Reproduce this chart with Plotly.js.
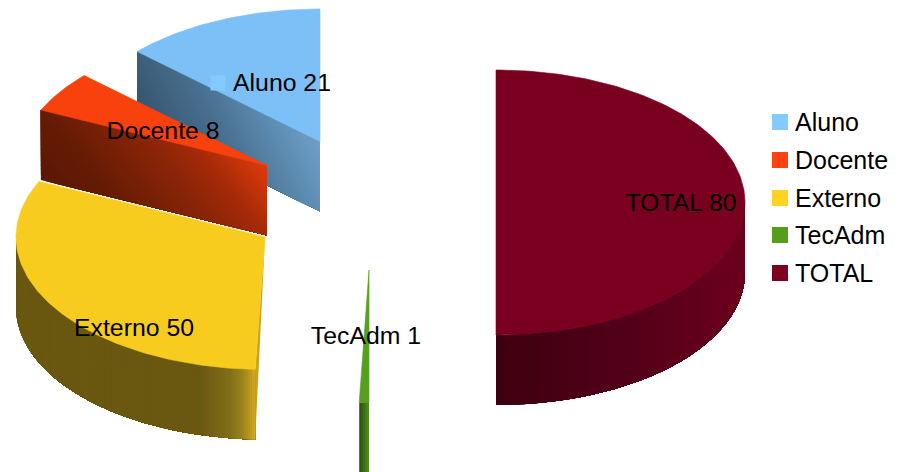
<!DOCTYPE html>
<html><head><meta charset="utf-8">
<script src="https://cdn.plot.ly/plotly-3.0.1.min.js"></script>
<style>html,body{margin:0;padding:0;background:#fff}#c{width:905px;height:472px}</style>
</head><body><div id="c"></div>
<script>
// data
const categories = ['Aluno','Docente','Externo','TecAdm','TOTAL'];
const values = [21,8,50,1,80];
// styles and geometry of the exploded pie
const legendColors = ['#83caff','#ff420e','#ffd320','#579d1c','#7e0021'];
const topColors = ['#7cc0f7','#f9410d','#f8cc1f','#57a01e','#7a0020'];
const centerX = [320,267,265,369,496];
const centerY = [141.5,165.5,237,270,202.5];
const labelX = [282,163,134,366,681];
const labelY = [84.5,132.5,329.5,338,205];
const legendY = [122,160,198,235,273];
const RX = 249, RY = 132.5, DEPTH = 70;

const W = 905, H = 472;
const total = values.reduce((a,b)=>a+b,0);
let cum = 0;
const ang = values.map(v=>{const a=[cum/total*360,(cum+v)/total*360];cum+=v;return a;});
const rad = d=>d*Math.PI/180;
const pt = (i,d)=>[centerX[i]-RX*Math.sin(rad(d)), centerY[i]-RY*Math.cos(rad(d))];
const hex = h=>[1,3,5].map(k=>parseInt(h.substr(k,2),16));
function ramp(stops,t){
  if(t<=stops[0][0])return hex(stops[0][1]);
  for(let k=1;k<stops.length;k++){
    if(t<=stops[k][0]){
      const a=stops[k-1],b=stops[k],f=(t-a[0])/(b[0]-a[0]||1);
      const A=hex(a[1]),B=hex(b[1]);
      return A.map((c,j)=>c+(B[j]-c)*f);
    }
  }
  return hex(stops[stops.length-1][1]);
}
const css = c=>`rgb(${c.map(v=>Math.round(v)).join(',')})`;
const traces = [];
function poly(pts,color,stroke){
  traces.push({type:'scatter',mode:stroke?'lines':'none',x:[...pts.map(p=>p[0]),pts[0][0]],y:[...pts.map(p=>p[1]),pts[0][1]],
    fill:'toself',fillcolor:color,line:{color:color,width:stroke?0.6:0},showlegend:false,hoverinfo:'skip'});
}
function topFace(i){
  const pts=[[centerX[i],centerY[i]]];
  for(let d=ang[i][0];d<ang[i][1];d+=1)pts.push(pt(i,d));
  pts.push(pt(i,ang[i][1]));
  poly(pts,topColors[i],true);
}
// keep the part of a polygon where x - tilt*y >= s
function clip(pts,tilt,s){
  const f=p=>p[0]-tilt*p[1]-s, out=[];
  pts.forEach((p,k)=>{
    const q=pts[(k+1)%pts.length],a=f(p),b=f(q);
    if(a>=0)out.push(p);
    if((a>=0)!==(b>=0)){const u=a/(a-b);out.push([p[0]+(q[0]-p[0])*u,p[1]+(q[1]-p[1])*u]);}
  });
  return out;
}
// cut face shaded by a diagonal gradient, painted back to front so no seams show
function radialWall(i,d,stops,tilt,n){
  const P=pt(i,d),C=[centerX[i],centerY[i]];
  const wall=[P,C,[C[0],C[1]+DEPTH],[P[0],P[1]+DEPTH]];
  const ss=wall.map(p=>p[0]-tilt*p[1]),lo=Math.min(...ss),hi=Math.max(...ss);
  for(let k=0;k<n;k++){
    const s=lo+(hi-lo)*k/n,c=clip(wall,tilt,s);
    if(c.length>2)poly(c,css(ramp(stops,s+(hi-lo)/n/2)));
  }
}
function outerWall(i,d0,d1,stops,step){
  const xa=pt(i,d0)[0],xb=pt(i,d1)[0];
  const lo=Math.min(xa,xb),span=Math.abs(xb-xa);
  for(let d=d0;d<d1;d+=step){
    const up=[],dn=[];
    for(let e=d;;e=Math.min(e+2,d1)){const A=pt(i,e);up.push(A);dn.unshift([A[0],A[1]+DEPTH]);if(e>=d1)break;}
    const m=pt(i,Math.min(d+step/2,d1));
    poly([...up,...dn],css(ramp(stops,(m[0]-lo)/span)));
  }
}
// Aluno
radialWall(0,ang[0][1],[[85,'#38566f'],[111,'#3d5f7b'],[160,'#4b7292'],[214,'#5f8fb5'],[249,'#6f9fc8']],0.5,50);
topFace(0);
// Docente
radialWall(1,ang[1][1],[[-103,'#5a1805'],[-47,'#651b05'],[44,'#8f2608'],[79,'#a82a08'],[131,'#dc3a0c']],0.8,60);
topFace(1);
// Externo
outerWall(2,90,ang[2][1],[[0,'#6a5810'],[0.77,'#6a5810'],[0.90,'#83701a'],[0.94,'#96801c'],[0.97,'#b3921e'],[1,'#d0aa20']],0.5);
{const C=[centerX[2],centerY[2]],O=pt(2,ang[2][1]);
 poly([C,[O[0],O[1]+DEPTH],O],'#c9a31c');}
topFace(2);
// TecAdm
{const O=pt(3,ang[3][0]),E=pt(3,ang[3][1]);
 const n=5;for(let k=0;k<n;k++){
   const a=O[0]+(E[0]-O[0])*k/n;
   poly([[a,O[1]],[E[0],E[1]],[E[0],E[1]+DEPTH],[a,O[1]+DEPTH]],css(ramp([[0,'#2e5510'],[1,'#4c8a1a']],k/(n-1))));
 }}
topFace(3);
// TOTAL (only the front quarter of its outer wall is in view)
outerWall(4,ang[4][0],ang[4][0]+90,[[0,'#3d0010'],[0.5,'#52001a'],[1,'#6c001c']],1);
topFace(4);
// label key on the Aluno slice
traces.push({type:'scatter',mode:'markers',x:[218],y:[83],marker:{symbol:'square',size:15,color:legendColors[0]},showlegend:false,hoverinfo:'skip'});
// data labels
traces.push({type:'scatter',mode:'text',x:labelX,y:labelY,text:categories.map((c,i)=>c+' '+values[i]),
  textposition:'middle center',textfont:{family:'Liberation Sans',size:24.8,color:'#000'},showlegend:false,hoverinfo:'skip'});
// legend keys and names
traces.push({type:'scatter',mode:'markers',x:categories.map(()=>780),y:legendY,
  marker:{symbol:'square',size:16,color:legendColors},showlegend:false,hoverinfo:'skip'});
traces.push({type:'scatter',mode:'text',x:categories.map(()=>795),y:legendY.map(v=>v+3),text:categories,
  textposition:'middle right',textfont:{family:'Liberation Sans',size:25,color:'#000'},showlegend:false,hoverinfo:'skip'});

Plotly.newPlot('c',traces,{
  width:W,height:H,margin:{l:0,r:0,t:0,b:0},paper_bgcolor:'#fff',plot_bgcolor:'#fff',
  xaxis:{range:[0,W],visible:false,fixedrange:true},
  yaxis:{range:[H,0],visible:false,fixedrange:true},
  showlegend:false
},{displayModeBar:false,staticPlot:true});
</script></body></html>
